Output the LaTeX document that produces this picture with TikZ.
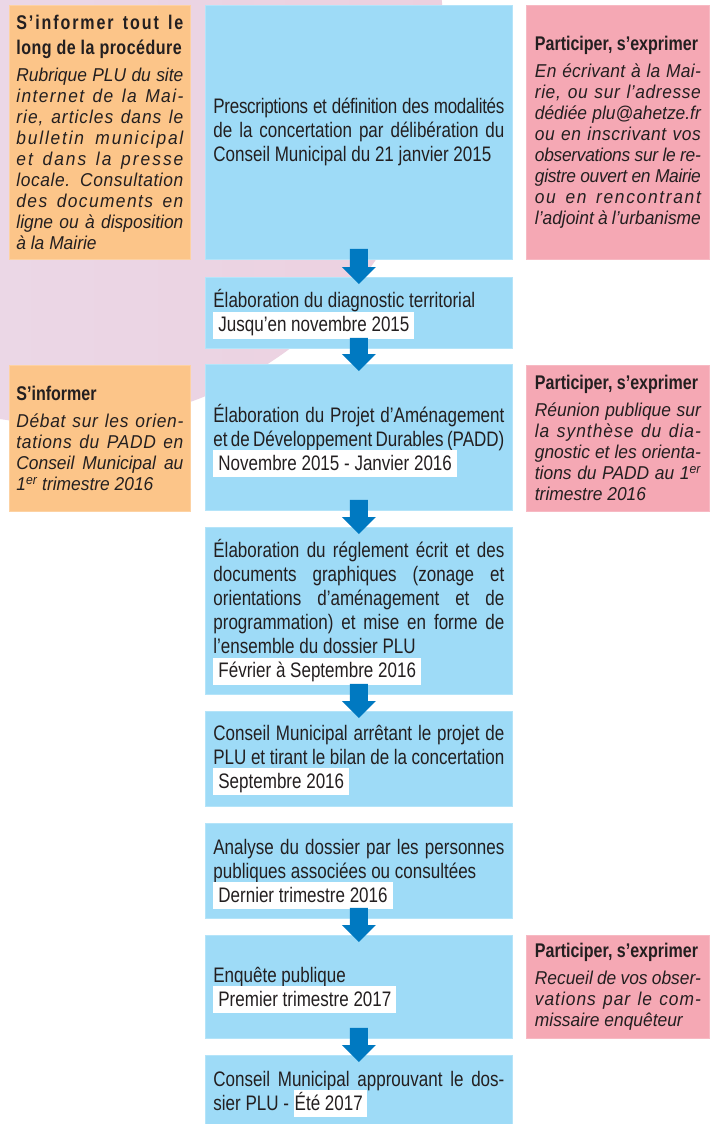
\documentclass[tikz,border=0pt]{standalone}
\usepackage{fontspec}
\setmainfont{Liberation Sans}[FakeStretch=0.81]
\newfontfamily\sidefont{Liberation Sans}[FakeStretch=0.935]
\usetikzlibrary{calc}
\definecolor{textc}{HTML}{231F20}
\definecolor{boxblue}{HTML}{9EDBF7}
\definecolor{boxblueedge}{HTML}{B4E4F9}
\definecolor{boxorange}{HTML}{FCC589}
\definecolor{boxorangeedge}{HTML}{FDD2A3}
\definecolor{boxpink}{HTML}{F5A8B4}
\definecolor{boxpinkedge}{HTML}{F7B9C3}
\definecolor{arrowc}{HTML}{0079C1}
\definecolor{bgL}{HTML}{EADCEB}
\definecolor{bgR}{HTML}{ECD0DF}
\newsavebox\hlsave
\newcommand\hlbox[3]{\sbox\hlsave{\hspace{#1}#3\hspace{#2}}%
  \leavevmode\rlap{\raisebox{0pt}[0pt][0pt]{\color{white}\rule[-7pt]{\wd\hlsave}{27pt}}}\usebox\hlsave}
\newcommand\datehl[1]{\hlbox{5pt}{5pt}{#1}}
\newcommand\ls[2]{{\addfontfeature{LetterSpace=#1}#2}}
\newcommand\sidetitle[1]{{\fontsize{19.8}{25}\selectfont\bfseries #1\par}\vspace{6pt}}
\newcommand\sidebody[1]{{\sidefont\itshape\fontsize{18.6}{21}\selectfont #1\par}}
\newcommand\flowarrow[2]{%
  \fill[arrowc] ([shift={(-9pt,11pt)}]#1.south) -- ([shift={(9pt,11pt)}]#1.south)
    -- ([shift={(9pt,10pt)}]#2.north) -- ([shift={(17pt,10pt)}]#2.north)
    -- ([shift={(0pt,-7pt)}]#2.north) -- ([shift={(-17pt,10pt)}]#2.north)
    -- ([shift={(-9pt,10pt)}]#2.north) -- cycle;}
\tikzset{
  boxbase/.style={anchor=north west, inner ysep=0pt, align=justify, text=textc,
    line width=0.8pt,
    execute at begin node={\lineskiplimit=-50pt\lineskip=0pt}},
  bluebox/.style={boxbase, fill=boxblue, draw=boxblueedge, text width=291pt,
    inner xsep=8pt, font=\fontsize{21}{24}\selectfont},
  leftbox/.style={boxbase, fill=boxorange, draw=boxorangeedge, text width=167pt,
    inner xsep=7pt},
  rightbox/.style={boxbase, fill=boxpink, draw=boxpinkedge, text width=166pt,
    inner xsep=8.5pt},
}
\begin{document}
\begin{tikzpicture}[x=1pt,y=-1pt]
\useasboundingbox (0,0) rectangle (712,1124);
\fill[white] (0,0) rectangle (712,1124);
\begin{scope}
  \clip (0,0) rectangle (712,1124);
  \shade[left color=bgL, right color=bgR] (62,42) circle[radius=382pt];
\end{scope}

% left column
\node[leftbox, minimum height=254pt] (l1) at (9,5) {%
  \sidetitle{\ls{9.6}{S’informer tout le}\linebreak \ls{2.4}{long de la procédure}}%
  \sidebody{Rubrique PLU du site\linebreak
  \ls{7.5}{internet de la Mai-}\linebreak
  \ls{5.3}{rie, articles dans le}\linebreak
  \ls{9.7}{bulletin municipal}\linebreak
  \ls{10.7}{et dans la presse}\linebreak
  \ls{3.2}{locale. Consultation}\linebreak
  \ls{7.5}{des documents en}\linebreak
  ligne ou à disposition\linebreak
  à la Mairie}};
\node[leftbox, minimum height=146pt] (l2) at (9,365) {%
  \sidetitle{S’informer}%
  \sidebody{\ls{3.7}{Débat sur les orien-}\linebreak
  \ls{3.7}{tations du PADD en}\linebreak
  Conseil Municipal au\linebreak
  1\textsuperscript{er} trimestre 2016}};

% right column
\node[rightbox, minimum height=254pt] (r1) at (526,5) {%
  \sidetitle{Participer, s’exprimer}%
  \sidebody{\ls{1.6}{En écrivant à la Mai-}\linebreak
  \ls{3.2}{rie, ou sur l’adresse}\linebreak
  dédiée plu@ahetze.fr\linebreak
  \ls{3.2}{ou en inscrivant vos}\linebreak
  \ls{-1.6}{observations sur le re-}\linebreak
  \ls{-1.6}{gistre ouvert en Mairie}\linebreak
  \ls{9}{ou en rencontrant}\linebreak
  l’adjoint à l’urbanisme}};
\node[rightbox, minimum height=146pt] (r2) at (526,365) {%
  \sidetitle{Participer, s’exprimer}%
  \sidebody{Réunion publique sur\linebreak
  \ls{5.3}{la synthèse du dia-}\linebreak
  gnostic et les orienta-\linebreak
  tions du PADD au 1\textsuperscript{er}\linebreak
  trimestre 2016}};
\node[rightbox, minimum height=103pt] (r3) at (526,935) {%
  \sidetitle{Participer, s’exprimer}%
  \sidebody{Recueil de vos obser-\linebreak
  \ls{5.3}{vations par le com-}\linebreak
  missaire enquêteur}};

% central column
\node[bluebox, minimum height=254pt] (b1) at (205,5) {%
  \ls{-1.4}{Prescriptions et définition des modalités}\linebreak
  de la concertation par délibération du\linebreak
  Conseil Municipal du 21 janvier 2015};
\node[bluebox, minimum height=71pt] (b2) at (205,277) {%
  Élaboration du diagnostic territorial\\\datehl{Jusqu’en novembre 2015}};
\node[bluebox, minimum height=146pt] (b3) at (205,364) {%
  Élaboration du Projet d’Aménagement\linebreak
  et de Développement Durables (PADD)\\\datehl{Novembre 2015 - Janvier 2016}};
\node[bluebox, minimum height=167pt] (b4) at (205,527) {%
  Élaboration du réglement écrit et des\linebreak
  documents graphiques (zonage et\linebreak
  orientations d’aménagement et de\linebreak
  programmation) et mise en forme de\linebreak
  l’ensemble du dossier PLU\\\datehl{Février à Septembre 2016}};
\node[bluebox, minimum height=95pt] (b5) at (205,711) {%
  Conseil Municipal arrêtant le projet de\linebreak
  PLU et tirant le bilan de la concertation\\\datehl{Septembre 2016}};
\node[bluebox, minimum height=95pt] (b6) at (205,823) {%
  Analyse du dossier par les personnes\linebreak
  publiques associées ou consultées\\\datehl{Dernier trimestre 2016}};
\node[bluebox, minimum height=103pt] (b7) at (205,935) {%
  Enquête publique\\\datehl{Premier trimestre 2017}};
\node[bluebox, minimum height=71pt] (b8) at (205,1055) {%
  Conseil Municipal approuvant le dos-\linebreak
  sier PLU - \hlbox{1pt}{4pt}{Été 2017}};

% arrows
\flowarrow{b1}{b2}
\flowarrow{b2}{b3}
\flowarrow{b3}{b4}
\flowarrow{b4}{b5}
\flowarrow{b6}{b7}
\flowarrow{b7}{b8}
\end{tikzpicture}
\end{document}
